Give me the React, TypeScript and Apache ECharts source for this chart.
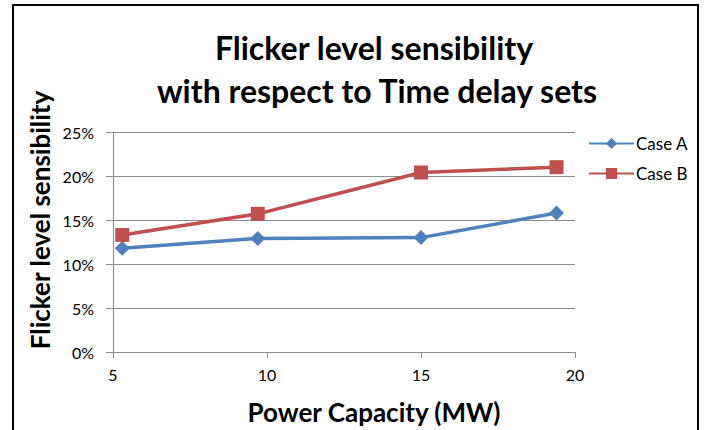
import React, { useEffect, useRef } from "react";
import * as echarts from "echarts";

const xValues = [5.3, 9.7, 15.0, 19.4];
const caseA = [0.118, 0.129, 0.130, 0.158];
const caseB = [0.133, 0.157, 0.204, 0.210];
const titleLines = ["Flicker level sensibility", "with respect to Time delay sets"];
const xName = "Power Capacity (MW)";
const yName = "Flicker level sensibility";
const seriesNames = ["Case A", "Case B"];

const FONT = "Lato";

export default function App() {
  const ref = useRef<HTMLDivElement>(null);
  useEffect(() => {
    if (!ref.current) return;
    const chart = echarts.init(ref.current, null, { renderer: "svg" });
    const pairs = (ys: number[]) => xValues.map((x, i) => [x, ys[i]]);
    chart.setOption({
      animation: false,
      backgroundColor: "#fff",
      textStyle: { fontFamily: FONT },
      graphic: [
        {
          type: "rect",
          shape: { x: 13, y: 5, width: 685, height: 500 },
          style: { fill: "none", stroke: "#000", lineWidth: 2 },
          silent: true,
        },
        {
          type: "text",
          x: 374,
          y: 47,
          style: {
            text: titleLines[0],
            font: `bold 32px ${FONT}`,
            fill: "#000",
            align: "center",
            verticalAlign: "middle",
          },
        },
        {
          type: "text",
          x: 377,
          y: 90,
          style: {
            text: titleLines[1],
            font: `bold 32px ${FONT}`,
            fill: "#000",
            align: "center",
            verticalAlign: "middle",
          },
        },
        {
          type: "text",
          x: 40,
          y: 220,
          rotation: Math.PI / 2,
          style: {
            text: yName,
            font: `bold 26px ${FONT}`,
            fill: "#000",
            align: "center",
            verticalAlign: "middle",
          },
        },
        {
          type: "text",
          x: 374,
          y: 412,
          style: {
            text: xName,
            font: `bold 26px ${FONT}`,
            fill: "#000",
            align: "center",
            verticalAlign: "middle",
          },
        },
      ],
      grid: { left: 113, top: 132, width: 462, height: 220, containLabel: false },
      xAxis: {
        type: "value",
        min: 5,
        max: 20,
        interval: 5,
        axisLine: { show: true, lineStyle: { color: "#8c8c8c", width: 1 } },
        axisTick: { show: true, length: 6, lineStyle: { color: "#8c8c8c" } },
        axisLabel: { color: "#000", fontSize: 16, margin: 14, fontFamily: FONT },
        splitLine: { show: false },
      },
      yAxis: {
        type: "value",
        min: 0,
        max: 0.25,
        interval: 0.05,
        axisLine: { show: true, lineStyle: { color: "#8c8c8c", width: 1 } },
        axisTick: { show: true, length: 7, lineStyle: { color: "#8c8c8c" } },
        axisLabel: {
          color: "#000",
          fontSize: 16,
          margin: 19,
          fontFamily: FONT,
          formatter: (v: number) => `${Math.round(v * 100)}%`,
        },
        splitLine: { show: true, lineStyle: { color: "#8c8c8c", width: 1 } },
      },
      legend: {
        orient: "vertical",
        left: 583,
        top: 130,
        itemWidth: 45,
        itemHeight: 14,
        itemGap: 13,
        textStyle: { color: "#000", fontSize: 17, fontFamily: FONT, padding: [0, 0, 0, -3] },
        data: seriesNames,
      },
      series: [
        {
          name: seriesNames[0],
          type: "line",
          data: pairs(caseA),
          symbol: "diamond",
          symbolSize: 15,
          lineStyle: { color: "#4F81BD", width: 3.5 },
          itemStyle: { color: "#4F81BD" },
        },
        {
          name: seriesNames[1],
          type: "line",
          data: pairs(caseB),
          symbol: "rect",
          symbolSize: 14,
          lineStyle: { color: "#C0504D", width: 3.5 },
          itemStyle: { color: "#C0504D" },
        },
      ],
    });
    return () => chart.dispose();
  }, []);
  return (
    <div
      ref={ref}
      style={{ position: "absolute", left: 0, top: 0, width: 704, height: 430 }}
    />
  );
}
